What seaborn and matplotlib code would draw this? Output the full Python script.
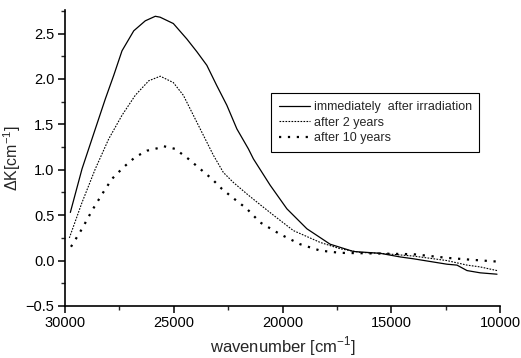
import matplotlib
matplotlib.use('Agg')
from matplotlib import pyplot as plt
from matplotlib.ticker import MultipleLocator
import seaborn as sns
import pandas as pd

# values
x_now = [29756, 29218, 28607, 28147, 27760, 27380, 26840, 26310, 25850, 25630,
         25020, 24400, 23940, 23480, 23030, 22560, 22100, 21570, 21340, 20570,
         19800, 18880, 17810, 16740, 15510, 14590, 13990, 12440, 11980, 11520,
         10910, 10140]
y_now = [0.53, 1.01, 1.45, 1.78, 2.04, 2.31, 2.53, 2.64, 2.69, 2.68,
         2.61, 2.44, 2.30, 2.15, 1.93, 1.71, 1.45, 1.23, 1.12, 0.83,
         0.57, 0.35, 0.18, 0.10, 0.08, 0.04, 0.02, -0.04, -0.05, -0.11,
         -0.135, -0.15]

x_2y = [29800, 29218, 28607, 27990, 27380, 26770, 26150, 25620, 25020, 24560,
        24100, 23640, 23180, 22720, 22260, 21570, 21000, 20420, 19500, 18270,
        17350, 16430, 15510, 13990, 12440, 11520, 10910, 10140]
y_2y = [0.25, 0.64, 1.01, 1.34, 1.60, 1.82, 1.98, 2.03, 1.96, 1.82,
        1.60, 1.38, 1.16, 0.97, 0.86, 0.72, 0.61, 0.50, 0.33, 0.20,
        0.13, 0.09, 0.08, 0.05, 0.0, -0.05, -0.07, -0.11]

x_10y = [29756, 29218, 28760, 28300, 27840, 27300, 26770, 26230, 25690, 25480,
         24940, 24330, 23790, 23250, 22790, 22330, 21640, 21030, 20110, 19190,
         18270, 17350, 16120, 13990, 12440, 11370, 10200]
y_10y = [0.14, 0.35, 0.55, 0.73, 0.90, 1.03, 1.14, 1.21, 1.24, 1.26,
         1.23, 1.12, 1.01, 0.90, 0.79, 0.70, 0.57, 0.42, 0.29, 0.18,
         0.11, 0.085, 0.08, 0.07, 0.03, 0.01, -0.01]

labels = ['immediately  after irradiation', 'after 2 years', 'after 10 years']

sns.set_style('ticks')
plt.rcParams['font.family'] = ['Liberation Sans', 'DejaVu Sans']
plt.rcParams['mathtext.fontset'] = 'custom'
plt.rcParams['mathtext.rm'] = 'Liberation Sans'

fig = plt.figure(figsize=(5.21, 3.58), dpi=100)
ax = fig.add_axes([0.1248, 0.1453, 0.835, 0.827])

series = [(x_now, y_now, labels[0], '-', 0.9),
          (x_2y, y_2y, labels[1], (0, (1.5, 1.2)), 0.8),
          (x_10y, y_10y, labels[2], (0, (1, 3)), 1.6)]
for xs, ys, lab, ls, lw in series:
    d = pd.DataFrame({'wavenumber': xs, 'dK': ys})
    sns.lineplot(data=d, x='wavenumber', y='dK', ax=ax, color='black',
                 linestyle=ls, linewidth=lw, label=lab)

ax.set_xlim(30000, 10000)
ax.set_ylim(-0.5, 2.76)
ax.xaxis.set_major_locator(MultipleLocator(5000))
ax.xaxis.set_minor_locator(MultipleLocator(2500))
ax.yaxis.set_major_locator(MultipleLocator(0.5))
ax.yaxis.set_minor_locator(MultipleLocator(0.25))
ax.tick_params(which='major', direction='out', length=5, width=1.1, labelsize=10.5,
               colors='black', pad=2.5)
ax.tick_params(which='minor', direction='out', length=3, width=1)
sns.despine(ax=ax)
for s in ['left', 'bottom']:
    ax.spines[s].set_linewidth(1.2)
    ax.spines[s].set_color('black')

ax.set_xlabel('wavenumber [cm$^{-1}$]', fontsize=12, labelpad=3)
ax.set_ylabel('ΔK[cm$^{-1}$]', fontsize=11.5, labelpad=2)

leg = ax.legend(loc='upper left', bbox_to_anchor=(0.474, 0.718), borderaxespad=0,
                fancybox=False, edgecolor='black', framealpha=1, fontsize=9,
                handlelength=2.5, handletextpad=0.3, labelspacing=0.3,
                borderpad=0.6)
leg.get_frame().set_linewidth(0.8)

fig.savefig('out.png', dpi=100)
